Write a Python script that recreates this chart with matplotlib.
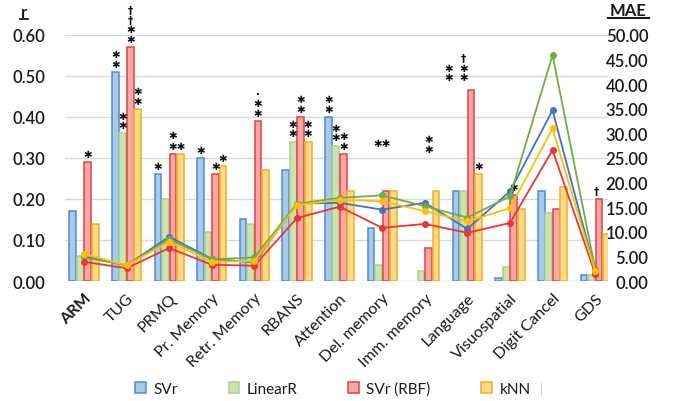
import numpy as np
import matplotlib
matplotlib.use("Agg")
import matplotlib.pyplot as plt
from matplotlib.patches import Patch
from matplotlib.lines import Line2D

# ---------------- data ----------------
categories = ["ARM", "TUG", "PRMQ", "Pr. Memory", "Retr. Memory", "RBANS", "Attention",
              "Del. memory", "Imm. memory", "Language", "Visuospatial", "Digit Cancel", "GDS"]
series_names = ["SVr", "LinearR", "SVr (RBF)", "kNN"]

# correlation r (bars, left axis)
r_svr    = [0.17, 0.51, 0.26, 0.30, 0.15, 0.27, 0.40, 0.13, np.nan, 0.22, 0.007, 0.22, 0.015]
r_linear = [0.06, 0.36, 0.20, 0.12, 0.14, 0.34, 0.33, 0.04, 0.025, 0.22, 0.035, 0.165, 0.015]
r_rbf    = [0.29, 0.57, 0.31, 0.26, 0.39, 0.40, 0.31, 0.22, 0.08, 0.465, 0.21, 0.175, 0.20]
r_knn    = [0.14, 0.42, 0.31, 0.28, 0.27, 0.34, 0.22, 0.22, 0.22, 0.26, 0.175, 0.23, 0.115]

# MAE (lines, right axis)
mae_svr    = [5.0, 3.2, 9.0, 4.5, 3.8, 15.7, 15.9, 14.5, 15.9, 10.6, 18.2, 34.7, 2.0]
mae_linear = [4.8, 3.2, 8.5, 4.4, 4.8, 15.7, 16.9, 17.4, 15.2, 12.9, 17.2, 45.9, 2.5]
mae_rbf    = [3.9, 2.6, 6.7, 3.3, 3.1, 12.8, 15.1, 10.8, 11.6, 9.8, 11.8, 26.6, 1.5]
mae_knn    = [5.5, 3.2, 8.0, 3.9, 4.1, 15.4, 16.5, 16.2, 14.2, 12.1, 14.8, 31.0, 2.0]

r_ticks = [0.0, 0.1, 0.2, 0.3, 0.4, 0.5, 0.6]
mae_ticks = [0, 5, 10, 15, 20, 25, 30, 35, 40, 45, 50]

# significance marks: (category index, bar slot, text, level or None -> above bar)
S = "\u2731"
D = "\u2020"
annotations = [
    (0, 2, S, None),
    (1, 0, S + "\n" + S, None), (1, 1, S + "\n" + S, None),
    (1, 2, D + "\n" + D + "\n" + S + "\n" + S, None), (1, 3, S + "\n" + S, None),
    (2, 0, S, None), (2, 2, S, 0.345), (2, 2.5, S + S, None),
    (3, 0, S, None), (3, 2, S, None), (3, 3, S, None),
    (4, 2, "\u00b7\n" + S + "\n" + S, None),
    (5, 1, S + "\n" + S, None), (5, 2, S + "\n" + S, None), (5, 3, S + "\n" + S, None),
    (6, 0, S + "\n" + S, None), (6, 1, S + "\n" + S, None), (6, 2.1, S + "\n" + S, None),
    (7, 1.5, S + S, 0.325),
    (8, 2, S + "\n" + S, 0.31),
    (9, -1, S + "\n" + S, 0.485), (9, 1, D + "\n" + S + "\n" + S, 0.485), (9, 3, S, None),
    (10, 2, S, None),
    (12, 1.6, D, None),
]

# ---------------- style ----------------
face = ["#a9c9ec", "#c9e3b1", "#f7a9a9", "#fdd98c"]
edge = ["#4f8bd0", "#a8d18c", "#ea3e3e", "#f2b01e"]
line_col = ["#4472c4", "#70ad47", "#ee3333", "#ffc000"]

plt.rcParams["font.family"] = ["Lato", "DejaVu Sans"]
txt = "#1a1a1a"

fig = plt.figure(figsize=(6.73, 4.02), dpi=100)
ax = fig.add_axes([0.0963, 0.2985, 0.807, 0.612])
ax2 = ax.twinx()

x = np.arange(len(categories))
step = 0.176
bw = 0.158
r_all = [r_svr, r_linear, r_rbf, r_knn]
mae_all = [mae_svr, mae_linear, mae_rbf, mae_knn]

for i, vals in enumerate(r_all):
    ax.bar(x + (i - 1.5) * step, vals, width=bw, color=face[i], edgecolor=edge[i],
           linewidth=1.1, zorder=2)

for cat, slot, text, level in annotations:
    xpos = cat + (slot - 1.5) * step
    if level is None:
        s = int(round(slot))
        y = r_all[s][cat] + 0.008
    else:
        y = level
    ax.text(xpos, y, text, ha="center", va="bottom", fontsize=7.5, color="#111111",
            fontweight="bold", linespacing=0.95, family="DejaVu Sans", zorder=5,
            clip_on=False)

ax.set_xlim(-0.45, 12.3)
ax.set_ylim(0, 0.6)
ax.set_yticks(r_ticks)
ax.set_yticklabels([f"{v:.2f}" for v in r_ticks])
ax.yaxis.grid(True, color="#d9d9d9", linewidth=1.0, zorder=0)
ax.set_axisbelow(True)
for sp in ax.spines.values():
    sp.set_visible(False)
ax.tick_params(axis="y", length=0, pad=14, labelsize=12, labelcolor=txt)
ax.set_xticks(x)
ax.set_xticklabels(categories, rotation=45, ha="right", rotation_mode="anchor",
                   fontsize=11.5, color=txt)
ax.tick_params(axis="x", length=0, pad=7)
for lab in ax.get_yticklabels():
    lab.set_fontweight("semibold")
ax.get_xticklabels()[0].set_fontweight("bold")

for i, vals in enumerate(mae_all):
    ax2.plot(x, vals, color=line_col[i], marker="o", markersize=4, linewidth=1.3, zorder=3)
ax2.set_ylim(0, 50)
ax2.set_yticks(mae_ticks)
ax2.set_yticklabels([f"{v:.2f}" for v in mae_ticks])
for sp in ax2.spines.values():
    sp.set_visible(False)
ax2.tick_params(axis="y", length=0, pad=29, labelsize=12, labelcolor=txt)
for lab in ax2.get_yticklabels():
    lab.set_horizontalalignment("right")
    lab.set_fontweight("semibold")

# axis titles
W, H = 673.0, 402.0
fig.text(24 / W, 1 - 13 / H, "r", ha="center", va="center", fontsize=12,
         fontweight="bold", color=txt)
fig.add_artist(Line2D([20 / W, 28 / W], [1 - 20 / H, 1 - 20 / H], color=txt, lw=1.3))
fig.text(628 / W, 1 - 11 / H, "MAE", ha="center", va="center", fontsize=12,
         fontweight="bold", color=txt)
fig.add_artist(Line2D([608 / W, 649 / W], [1 - 19 / H, 1 - 19 / H], color=txt, lw=1.5))

# legend (bars only)
handles = [Patch(facecolor=face[i], edgecolor=edge[i], linewidth=1.1) for i in range(4)]
fig.legend(handles, series_names, loc="center", bbox_to_anchor=(333 / W, 1 - 390 / H),
           ncol=4, frameon=False, fontsize=11, handlelength=0.7, handleheight=0.7,
           handletextpad=0.5, columnspacing=3.3, labelcolor=txt)
fig.text(541 / W, 1 - 390 / H, "|", ha="center", va="center", fontsize=9, color="#cccccc")

fig.savefig("out.png", dpi=100)
